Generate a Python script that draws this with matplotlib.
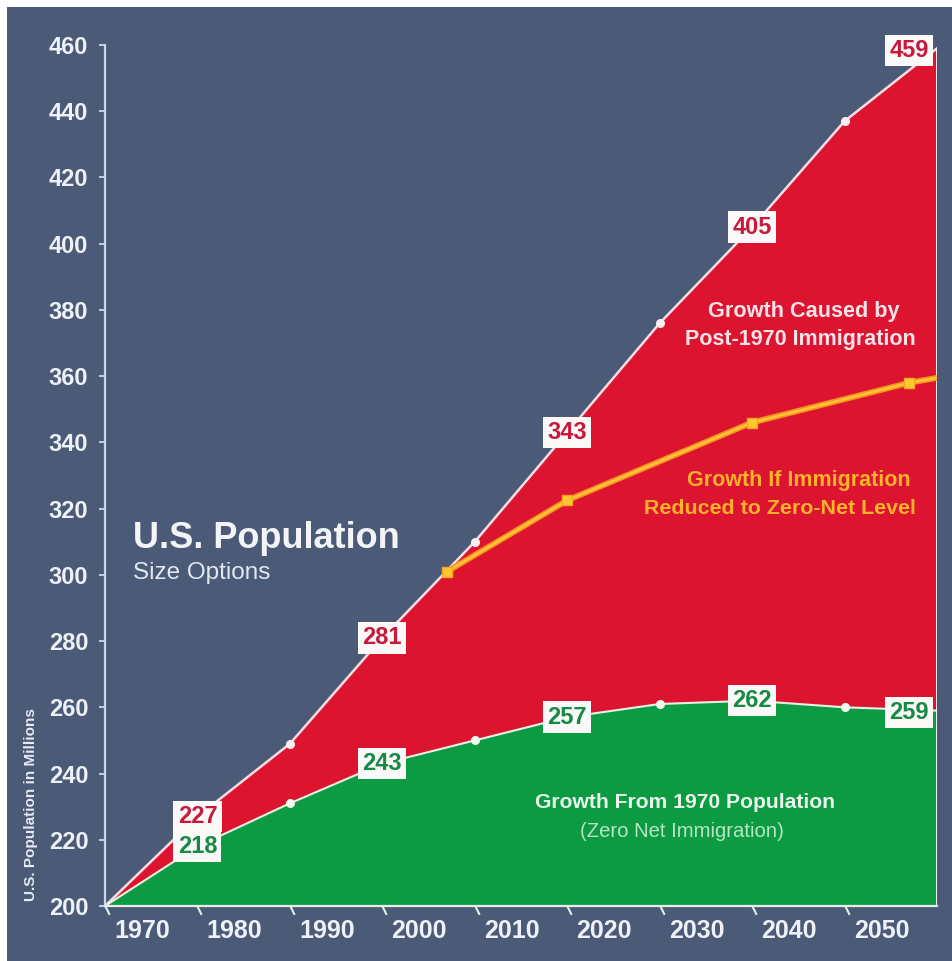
import matplotlib
matplotlib.use('Agg')
import matplotlib.pyplot as plt
from matplotlib.path import Path
from matplotlib.transforms import ScaledTranslation
from matplotlib.patches import Rectangle

# ---------------- data ----------------
years = [1970, 1980, 1990, 2000, 2010, 2020, 2030, 2040, 2050, 2060]
with_immigration = [200, 227, 249, 281, 310, 343, 376, 405, 437, 459]
from_1970_pop = [200, 218, 231, 243, 250, 257, 261, 262, 260, 259]
reduced_years = [2007, 2020, 2040, 2057, 2060]
reduced_values = [301, 322.5, 346, 358, 359.5]
labelled_years = [1980, 2000, 2020, 2040, 2060]
y_ticks = list(range(200, 461, 20))
x_tick_years = list(range(1970, 2051, 10))
x_tick_labels = [str(y) for y in x_tick_years]

# ---------------- style ----------------
BLUE = '#4a5a77'
RED = '#dc1430'
GREEN = '#0c9a42'
ORANGE = '#f7941d'
YELLOW = '#ffc43a'
AXISC = '#c9d6ea'
BOLD = ['Liberation Sans', 'DejaVu Sans']

fig = plt.figure(figsize=(9.53, 9.61), dpi=100)
fig.patch.set_facecolor('white')
fig.add_artist(Rectangle((7/953, 0), 1, 1 - 7/961, transform=fig.transFigure,
                         facecolor=BLUE, edgecolor='none', zorder=-10))

ax = fig.add_axes([105/953, 1 - 906/961, (937 - 105)/953, (906 - 45)/961])
ax.set_facecolor(BLUE)
ax.set_xlim(years[0], years[-1])
ax.set_ylim(y_ticks[0], y_ticks[-1])
ybase = y_ticks[0]

# areas
ax.fill_between(years, ybase, from_1970_pop, color=GREEN, lw=0, zorder=1)
ax.fill_between(years, from_1970_pop, with_immigration, color=RED, lw=0, zorder=1)
ax.plot(years, with_immigration, color='#f6dde3', lw=1.8, zorder=3)
ax.plot(years, from_1970_pop, color='#e4f2e4', lw=1.5, zorder=3)
ax.vlines(years[-1], ybase, with_immigration[-1], color='white', lw=2, zorder=3)

# small white dots at unlabelled decades
dot_idx = [i for i, y in enumerate(years) if y not in labelled_years and i > 0]
ax.plot([years[i] for i in dot_idx], [with_immigration[i] for i in dot_idx], 'o',
        ms=5.5, color='#fbeef0', zorder=4)
ax.plot([years[i] for i in dot_idx], [from_1970_pop[i] for i in dot_idx], 'o',
        ms=5.5, color='#f0faf0', zorder=4)

# reduced immigration line
ax.plot(reduced_years, reduced_values, color=ORANGE, lw=4.2, zorder=5,
        solid_capstyle='butt')
ax.plot(reduced_years, reduced_values, color=YELLOW, lw=1.8, zorder=5,
        solid_capstyle='butt')
ax.plot(reduced_years[:-1], reduced_values[:-1], 's', ms=7.5, mfc='#ffc82e',
        mec='#f9a623', mew=1, zorder=6)

# labels in boxes
for yr in labelled_years:
    i = years.index(yr)
    last = (yr == years[-1])
    for val, col in ((with_immigration[i], '#c8193a'), (from_1970_pop[i], '#158a45')):
        ax.annotate(str(val), (yr, val), xytext=((-6, -1.5) if last else (0, 0)),
                    textcoords='offset points',
                    ha='right' if last else 'center', va='center',
                    fontsize=17, fontweight='bold', family=BOLD, color=col,
                    bbox=dict(boxstyle='square,pad=0.18', fc='#fbf8f8', ec='none'),
                    zorder=8)

# axes styling
for s in ('top', 'right'):
    ax.spines[s].set_visible(False)
ax.spines['left'].set_color(AXISC)
ax.spines['left'].set_linewidth(1.6)
ax.spines['bottom'].set_color('#e6efe6')
ax.spines['bottom'].set_linewidth(1.6)
ax.spines['left'].set_zorder(7)
ax.spines['bottom'].set_zorder(7)

ax.set_yticks(y_ticks)
ax.set_yticklabels([str(v) for v in y_ticks])
ax.tick_params(axis='y', direction='out', length=4, width=1.3, color=AXISC,
               labelcolor='#eef2f8', labelsize=17, pad=8)
ax.set_xticks(x_tick_years)
ax.set_xticklabels(x_tick_labels)
ax.tick_params(axis='x', length=0, labelcolor='#eef2f8', labelsize=18, pad=9)
for lab in ax.get_yticklabels() + ax.get_xticklabels():
    lab.set_fontweight('bold')
    lab.set_family(BOLD)
shift = ScaledTranslation(37/100, 0, fig.dpi_scale_trans)
for lab in ax.get_xticklabels():
    lab.set_transform(lab.get_transform() + shift)

# slanted tick marks
ax.plot(x_tick_years, [ybase]*len(x_tick_years), ls='none',
        marker=Path([(0, 0), (0.5, -1)]), ms=12, mfc='none', mec='#e6efe6',
        mew=1.5, clip_on=False, zorder=7)

# texts
ax.text(1973.0, 308, 'U.S. Population', fontsize=26, fontweight='bold',
        family=BOLD, color='#f2f4f8', ha='left', va='baseline', zorder=9)
ax.text(1973.0, 298.6, 'Size Options', fontsize=17.5, family=BOLD,
        color='#e2e8f2', ha='left', va='baseline', zorder=9)
ax.text(2045.6, 379.6, 'Growth Caused by', fontsize=15.6, fontweight='bold',
        family=BOLD, color='#f9e3e8', ha='center', va='center', zorder=9)
ax.text(2045.2, 371.1, 'Post-1970 Immigration', fontsize=15.5, fontweight='bold',
        family=BOLD, color='#f9e3e8', ha='center', va='center', zorder=9)
ax.text(2045.0, 328.5, 'Growth If Immigration', fontsize=15.5, fontweight='bold',
        family=BOLD, color='#ffb22a', ha='center', va='center', zorder=9)
ax.text(2043.0, 320.0, 'Reduced to Zero-Net Level', fontsize=15.4, fontweight='bold',
        family=BOLD, color='#ffb22a', ha='center', va='center', zorder=9)
ax.text(2032.7, 231.4, 'Growth From 1970 Population', fontsize=15.2,
        fontweight='bold', family=BOLD, color='#e8f7ea', ha='center',
        va='center', zorder=9)
ax.text(2032.4, 222.4, '(Zero Net Immigration)', fontsize=14.6, family=BOLD,
        color='#b5e6c2', ha='center', va='center', zorder=9)

fig.text(31/953, 1 - 805/961, 'U.S. Population in Millions', rotation=90,
         fontsize=11, fontweight='bold', family=BOLD, color='#e6ebf3',
         ha='center', va='center')

fig.savefig('out.png', dpi=100, facecolor=fig.get_facecolor())
